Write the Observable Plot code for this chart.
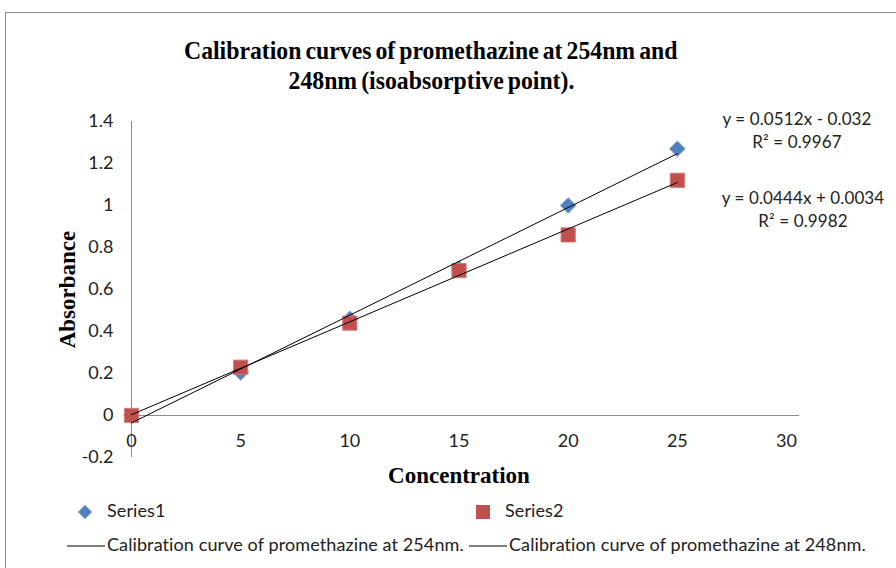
<!DOCTYPE html>
<html><head><meta charset="utf-8">
<script src="https://cdn.jsdelivr.net/npm/d3@7"></script>
<script src="https://cdn.jsdelivr.net/npm/@observablehq/plot@0.6"></script>
<style>
html,body{margin:0;padding:0;background:#fff;}
#wrap{position:relative;width:896px;height:568px;overflow:hidden;background:#fff;}
#frame{position:absolute;left:5px;top:12px;width:900px;height:570px;border:1px solid #8c8c8c;box-sizing:border-box;}
#title{position:absolute;left:0;width:862px;top:36px;text-align:center;font-family:"Liberation Serif","Times New Roman",serif;font-weight:bold;font-size:25px;line-height:30px;color:#000;}
#title span{display:inline-block;transform:scaleX(0.95);transform-origin:center;word-spacing:-2px;white-space:nowrap;}
#plot{position:absolute;left:0;top:0;}
.sans{font-family:Lato,sans-serif;color:#222;}
.eq{position:absolute;text-align:center;font-size:17px;letter-spacing:0.1px;line-height:23px;width:200px;}
.leg{position:absolute;font-size:18px;letter-spacing:0.1px;white-space:nowrap;}
</style></head>
<body><div id="wrap"><div id="frame"></div><div id="title"></div><div id="plot"></div></div>
<script>
const concentration = [0, 5, 10, 15, 20, 25];
const series1 = [0, 0.205, 0.46, 0.70, 1.0, 1.27];
const series2 = [0, 0.23, 0.44, 0.69, 0.86, 1.12];
const xTicks = [0, 5, 10, 15, 20, 25, 30];
const yTicks = [-0.2, 0, 0.2, 0.4, 0.6, 0.8, 1, 1.2, 1.4];
const titleLines = ["Calibration curves of promethazine at 254nm and", "248nm (isoabsorptive point)."];
const equations = [["y = 0.0512x - 0.032", "R² = 0.9967"], ["y = 0.0444x + 0.0034", "R² = 0.9982"]];
const seriesNames = ["Series1", "Series2"];
const trendNames = ["Calibration curve of promethazine at 254nm.", "Calibration curve of promethazine at 248nm."];

const blue = "#4F81BD", red = "#C0504D";
const d1 = concentration.map((x, i) => ({x, y: series1[i]}));
const d2 = concentration.map((x, i) => ({x, y: series2[i]}));

document.getElementById("title").innerHTML = titleLines.map(t => `<span>${t}</span>`).join("<br>");

const tickFont = {fontSize: 18, fontFamily: "Lato, sans-serif", fill: "#222", letterSpacing: "0.4px"};
const chart = Plot.plot({
  width: 896, height: 568,
  marginLeft: 131, marginRight: 110, marginTop: 121, marginBottom: 111,
  x: {domain: [0, 30], axis: null},
  y: {domain: [-0.2, 1.4], axis: null},
  style: {background: "transparent", overflow: "visible"},
  marks: [
    Plot.ruleX([0], {y1: -0.2, y2: 1.4, stroke: "#8c8c8c", strokeWidth: 1}),
    Plot.ruleY([0], {x1: 0, x2: 30.6, stroke: "#8c8c8c", strokeWidth: 1}),
    Plot.text(yTicks, {x: 0, y: d => d, text: d => String(d), textAnchor: "end", dx: -18, ...tickFont}),
    Plot.text(xTicks, {x: d => d, y: 0, text: d => String(d), dy: 26, ...tickFont}),
    Plot.text(["Concentration"], {x: 15, y: -0.2, text: d => d, dy: 18, fontSize: 23, fontWeight: "bold", fontFamily: "Liberation Serif, serif", fill: "#000"}),
    Plot.text(["Absorbance"], {x: 0, y: 0.6, text: d => d, dx: -64, rotate: -90, fontSize: 23, fontWeight: "bold", fontFamily: "Liberation Serif, serif", fill: "#000"}),
    Plot.dot(d1, {x: "x", y: "y", symbol: "diamond2", r: 6.8, fill: blue, stroke: blue, strokeOpacity: 0.5}),
    Plot.dot(d2, {x: "x", y: "y", symbol: "square", r: 8, fill: red, stroke: "#d47a78", strokeWidth: 1}),
    Plot.linearRegressionY(d1, {x: "x", y: "y", ci: 0, stroke: "#000", strokeWidth: 1}),
    Plot.linearRegressionY(d2, {x: "x", y: "y", ci: 0, stroke: "#000", strokeWidth: 1})
  ]
});
document.getElementById("plot").appendChild(chart);

const wrap = document.getElementById("wrap");
const eqPos = [[697, 107], [703, 186]];
equations.forEach((lines, i) => {
  const el = document.createElement("div");
  el.className = "eq sans";
  el.style.left = eqPos[i][0] + "px"; el.style.top = eqPos[i][1] + "px";
  el.innerHTML = lines.join("<br>");
  wrap.appendChild(el);
});

function addLeg(html, left, top) {
  const el = document.createElement("div");
  el.className = "leg sans";
  el.style.left = left + "px"; el.style.top = top + "px";
  el.innerHTML = html;
  wrap.appendChild(el);
}
const diamondSvg = `<svg width="16" height="16" style="vertical-align:middle"><path d="M8,1L15,8L8,15L1,8Z" fill="${blue}"/></svg>`;
const squareSvg = `<svg width="16" height="16" style="vertical-align:middle"><rect x="1" y="1" width="14" height="14" fill="${red}"/></svg>`;
const lineSvg = `<svg width="40" height="10" style="vertical-align:middle"><line x1="0" y1="5" x2="38" y2="5" stroke="#000" stroke-width="1"/></svg>`;
addLeg(`${diamondSvg}<span style="margin-left:14px">${seriesNames[0]}</span>`, 77, 499);
addLeg(`${squareSvg}<span style="margin-left:14px">${seriesNames[1]}</span>`, 475, 499);
addLeg(`${lineSvg}<span>${trendNames[0]}</span>`, 67, 533);
addLeg(`${lineSvg}<span>${trendNames[1]}</span>`, 469, 533);
</script></body></html>
